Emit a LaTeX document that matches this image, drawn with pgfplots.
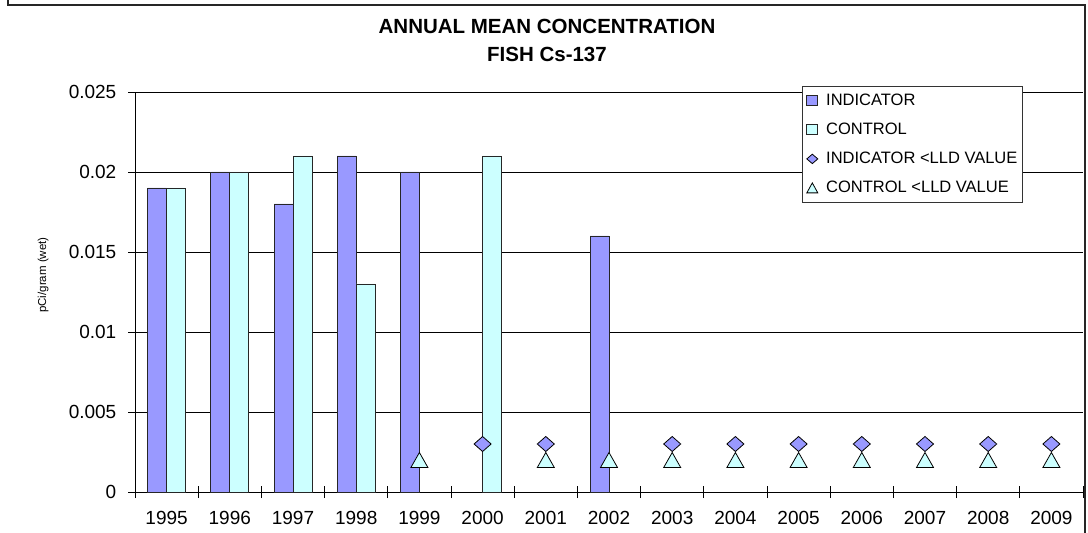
\documentclass[border=0pt]{standalone}
\usepackage{pgfplots}
\pgfplotsset{compat=1.18}
\usepackage{fontspec}
\setmainfont{Liberation Sans}
\definecolor{ind}{HTML}{9999FF}
\definecolor{ctl}{HTML}{CCFFFF}
\pgfdeclareplotmark{xdiam}{%
  \pgfpathmoveto{\pgfqpoint{0pt}{7.5pt}}\pgfpathlineto{\pgfqpoint{8.5pt}{0pt}}%
  \pgfpathlineto{\pgfqpoint{0pt}{-7.5pt}}\pgfpathlineto{\pgfqpoint{-8.5pt}{0pt}}%
  \pgfpathclose\pgfusepathqfillstroke}
\pgfdeclareplotmark{xtri}{%
  \pgfpathmoveto{\pgfqpoint{0pt}{7.5pt}}\pgfpathlineto{\pgfqpoint{8.5pt}{-7.5pt}}%
  \pgfpathlineto{\pgfqpoint{-8.5pt}{-7.5pt}}\pgfpathclose\pgfusepathqfillstroke}
\begin{document}
\begin{tikzpicture}[x=1pt,y=1pt]
\path[use as bounding box] (0,0) rectangle (1088,533);
\draw[line width=1.5pt, draw=black!85] (8,540) -- (8,528) -- (1085,528) -- (1085,-5);
\begin{axis}[
  at={(135pt,41pt)}, anchor=south west,
  scale only axis, width=948pt, height=400pt,
  xmin=-0.5, xmax=14.5, ymin=0, ymax=0.025,
  axis x line*=bottom, axis y line*=left,
  axis line style={line width=0.9pt},
  xtick={0,...,14},
  xticklabels={1995,1996,1997,1998,1999,2000,2001,2002,2003,2004,2005,2006,2007,2008,2009},
  minor xtick={-0.5,0.5,...,14.5},
  major x tick style={draw=none},
  minor x tick style={draw=black, line width=0.8pt},
  scaled y ticks=false,
  ytick={0,0.005,0.01,0.015,0.02,0.025},
  yticklabels={0,0.005,0.01,0.015,0.02,0.025},
  y tick style={draw=black, line width=0.8pt},
  tick align=center, major tick length=13pt, minor tick length=12pt,
  ymajorgrids, grid style={black, line width=0.8pt},
  ticklabel style={font=\fontsize{19}{22}\selectfont},
  xticklabel style={anchor=north, text height=13.6pt, text depth=0pt, inner sep=0pt, yshift=-12pt},
  yticklabel style={anchor=east, inner sep=0pt, xshift=-12pt},
  ylabel={pCi/gram (wet)},
  ylabel style={at={(axis description cs:-0.097,0.5425)}, anchor=center,
    font=\fontsize{11.5}{14}\selectfont},
  title={\textbf{ANNUAL MEAN CONCENTRATION}\\[4pt]\textbf{FISH Cs-137}},
  title style={at={(axis description cs:0.4346,1)}, anchor=south, align=center,
    inner sep=0pt, font=\fontsize{20.5}{24}\selectfont, yshift=24pt},
  legend style={at={(axis description cs:0.7036,1.015)}, anchor=north west,
    draw=black!80, line width=0.8pt, fill=white,
    font=\fontsize{16.5}{19}\selectfont, row sep=11pt, inner xsep=4pt, inner ysep=5.5pt,
    nodes={inner sep=1pt, text height=12.5pt, text depth=3.5pt},
    /tikz/every odd column/.append style={column sep=7pt}},
  legend cell align=left,
  clip=false,
]
\addplot[ybar, bar width=0.3, bar shift=-0.15, fill=ind, draw=black!85, line width=0.8pt,
  legend image code/.code={\draw[fill=ind,draw=black!85,line width=0.8pt] (0pt,-5pt) rectangle (11pt,5pt);}]
  coordinates {(0,0.019) (1,0.020) (2,0.018) (3,0.021) (4,0.020) (7,0.016)};
\addlegendentry{INDICATOR}
\addplot[ybar, bar width=0.3, bar shift=0.15, fill=ctl, draw=black!85, line width=0.8pt,
  legend image code/.code={\draw[fill=ctl,draw=black!85,line width=0.8pt] (0pt,-5pt) rectangle (11pt,5pt);}]
  coordinates {(0,0.019) (1,0.020) (2,0.021) (3,0.013) (5,0.021)};
\addlegendentry{CONTROL}
\addplot[only marks, mark=xdiam, mark options={fill=ind, draw=black, line width=0.8pt},
  legend image code/.code={\draw[fill=ind,draw=black,line width=0.8pt] (5.5pt,4.7pt) -- (11pt,0pt) -- (5.5pt,-4.7pt) -- (0pt,0pt) -- cycle;}]
  coordinates {(5,0.003) (6,0.003) (8,0.003) (9,0.003) (10,0.003) (11,0.003) (12,0.003) (13,0.003) (14,0.003)};
\addlegendentry{INDICATOR <LLD VALUE}
\addplot[only marks, mark=xtri, mark options={fill=ctl, draw=black, line width=0.8pt},
  legend image code/.code={\draw[fill=ctl,draw=black,line width=0.8pt] (5.5pt,5pt) -- (11pt,-5pt) -- (0pt,-5pt) -- cycle;}]
  coordinates {(4,0.002) (6,0.002) (7,0.002) (8,0.002) (9,0.002) (10,0.002) (11,0.002) (12,0.002) (13,0.002) (14,0.002)};
\addlegendentry{CONTROL <LLD VALUE}
\end{axis}
\end{tikzpicture}
\end{document}
